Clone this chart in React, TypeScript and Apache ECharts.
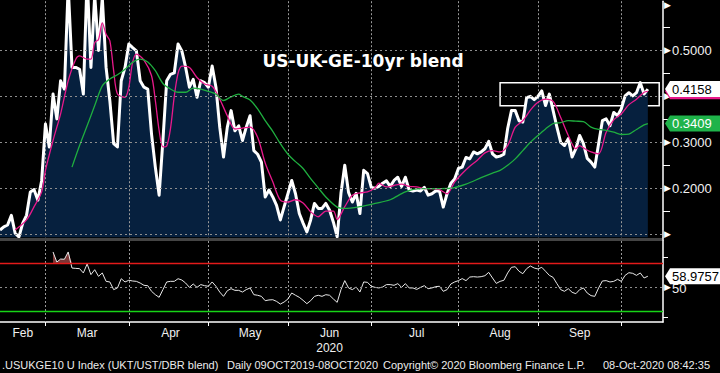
import React, { useEffect, useRef } from 'react';
import * as echarts from 'echarts';

// ---- axis / calendar ----
const START_DATE = '2020-02-13';
const CATEGORY_COUNT = 176;
const MARKET_HOLIDAYS = ['2020-04-10'];
const MONTH_NAMES = ['Jan', 'Feb', 'Mar', 'Apr', 'May', 'Jun', 'Jul', 'Aug', 'Sep', 'Oct', 'Nov', 'Dec'];
const YEAR_LABEL_MONTH = 'Jun';
const YEAR_LABEL = '2020';

// ---- main series: US-UK-GE 10yr blend (daily) ----
const blendValues = [
  0.109, 0.116, 0.120, 0.141, 0.102, 0.094, 0.124, 0.141, 0.192, 0.197,
  0.174, 0.217, 0.340, 0.290, 0.405, 0.351, 0.434, 0.416, 0.640, 0.463,
  0.463, 0.459, 0.405, 0.660, 0.463, 0.620, 0.500, 0.615, 0.463, 0.390,
  0.297, 0.290, 0.434, 0.463, 0.514, 0.506, 0.499, 0.434, 0.420, 0.416,
  0.318, 0.246, 0.185, 0.304, 0.434, 0.448, 0.451, 0.514, 0.499, 0.463,
  0.420, 0.437, 0.398, 0.434, 0.430, 0.420, 0.466, 0.420, 0.333, 0.268,
  0.333, 0.369, 0.325, 0.336, 0.304, 0.333, 0.358, 0.282, 0.274, 0.257,
  0.181, 0.196, 0.181, 0.163, 0.131, 0.160, 0.188, 0.217, 0.188, 0.145,
  0.124, 0.105, 0.131, 0.167, 0.156, 0.156, 0.167, 0.152, 0.126, 0.094,
  0.189, 0.250, 0.191, 0.170, 0.189, 0.145, 0.239, 0.232, 0.202, 0.200,
  0.204, 0.211, 0.216, 0.204, 0.217, 0.224, 0.204, 0.224, 0.196, 0.194,
  0.196, 0.194, 0.202, 0.185, 0.188, 0.194, 0.194, 0.159, 0.188, 0.211,
  0.220, 0.243, 0.246, 0.267, 0.264, 0.279, 0.275, 0.279, 0.286, 0.302,
  0.275, 0.268, 0.270, 0.274, 0.330, 0.369, 0.369, 0.347, 0.344, 0.397,
  0.400, 0.393, 0.400, 0.412, 0.380, 0.405, 0.369, 0.333, 0.300, 0.293,
  0.308, 0.268, 0.286, 0.315, 0.297, 0.265, 0.257, 0.246, 0.297, 0.347,
  0.351, 0.336, 0.365, 0.358, 0.373, 0.401, 0.408, 0.401, 0.408, 0.430,
  0.405, 0.4158,
];

// ---- short moving average (magenta), read at [dayIndex, value] ----
const fastAverage: [number, number][] = [
  [4, 0.109], [7, 0.131], [9, 0.160], [11, 0.192], [12, 0.239], [14, 0.304], [16, 0.362],
  [18, 0.434], [20, 0.481], [21, 0.488], [23, 0.481], [24, 0.481], [25, 0.517], [26, 0.524],
  [27, 0.560], [28, 0.535], [29, 0.521], [30, 0.456], [31, 0.405], [33, 0.398], [34, 0.420],
  [35, 0.474], [36, 0.492], [38, 0.479], [40, 0.445], [41, 0.391], [42, 0.326], [43, 0.290],
  [44, 0.292], [45, 0.330], [46, 0.400], [47, 0.450], [48, 0.466], [50, 0.463], [52, 0.441],
  [54, 0.427], [56, 0.422], [58, 0.394], [60, 0.358], [62, 0.329], [64, 0.331], [66, 0.333],
  [68, 0.311], [70, 0.255], [72, 0.214], [74, 0.174], [76, 0.170], [78, 0.175], [80, 0.168],
  [82, 0.149], [84, 0.138], [86, 0.150], [88, 0.150], [89, 0.132], [91, 0.160], [93, 0.185],
  [95, 0.190], [97, 0.192], [99, 0.201], [100, 0.211], [102, 0.203], [104, 0.206], [106, 0.209],
  [108, 0.204], [110, 0.203], [112, 0.199], [114, 0.199], [116, 0.197], [118, 0.188], [120, 0.214],
  [122, 0.232], [124, 0.248], [126, 0.261], [128, 0.277], [130, 0.282], [132, 0.279], [134, 0.293],
  [136, 0.333], [138, 0.347], [140, 0.370], [142, 0.387], [144, 0.394], [146, 0.389], [148, 0.354],
  [150, 0.315], [152, 0.286], [153, 0.293], [154, 0.288], [156, 0.279], [158, 0.275], [160, 0.322],
  [162, 0.349], [164, 0.362], [166, 0.382], [168, 0.394], [170, 0.409], [171, 0.411],
];

// ---- long moving average (green) ----
const slowAverage: [number, number][] = [
  [19, 0.246], [21, 0.293], [23, 0.336], [25, 0.380], [27, 0.423], [29, 0.438], [31, 0.447],
  [33, 0.459], [35, 0.474], [37, 0.481], [39, 0.475], [41, 0.456], [43, 0.428], [45, 0.416],
  [47, 0.409], [49, 0.409], [51, 0.418], [53, 0.416], [55, 0.411], [57, 0.405], [59, 0.391],
  [61, 0.399], [63, 0.405], [64, 0.400], [66, 0.392], [68, 0.373], [70, 0.347], [72, 0.324],
  [74, 0.297], [76, 0.274], [78, 0.258], [80, 0.243], [82, 0.221], [84, 0.201], [86, 0.181],
  [89, 0.159], [91, 0.156], [95, 0.160], [99, 0.167], [103, 0.175], [107, 0.192], [111, 0.199],
  [115, 0.199], [119, 0.200], [123, 0.209], [127, 0.223], [130, 0.233], [132, 0.239], [134, 0.250],
  [136, 0.264], [138, 0.282], [140, 0.300], [142, 0.315], [144, 0.329], [146, 0.341], [148, 0.343],
  [150, 0.347], [152, 0.346], [154, 0.345], [156, 0.333], [158, 0.328], [160, 0.326], [162, 0.322],
  [164, 0.317], [166, 0.318], [168, 0.328], [170, 0.338], [171, 0.3409],
];

// ---- RSI (lower panel) ----
const rsiValues: (number | null)[] = [
  null, null, null, null, null, null, null, null, null, null,
  null, null, null, null, 79.2, 70.8, 73.3, 73.1, 79.2, 65.8,
  65.5, 65.3, 61.7, 69.2, 60.3, 64.4, 58.9, 61.7, 54.7, 54.2,
  47.8, 49.2, 56.9, 54.2, 55.6, 55.0, 54.7, 53.3, 51.4, 51.1,
  46.4, 43.6, 41.4, 47.8, 54.2, 54.7, 54.7, 56.9, 55.8, 53.3,
  49.7, 52.5, 49.7, 52.0, 51.1, 50.6, 54.2, 50.6, 45.8, 42.2,
  46.9, 48.6, 47.2, 47.2, 45.8, 47.8, 49.2, 43.6, 43.1, 42.2,
  38.6, 39.2, 39.4, 38.0, 35.8, 37.5, 40.0, 45.0, 43.1, 41.4,
  38.9, 36.1, 38.6, 42.2, 43.1, 42.2, 43.6, 43.1, 40.0, 37.2,
  47.8, 55.3, 49.2, 47.8, 50.0, 45.8, 54.2, 53.9, 50.6, 49.7,
  49.2, 50.0, 52.0, 52.0, 51.4, 52.8, 49.7, 52.8, 49.2, 49.2,
  48.0, 49.7, 51.1, 48.6, 49.2, 50.3, 50.6, 46.4, 47.8, 52.5,
  54.2, 55.3, 57.0, 55.3, 58.3, 58.6, 58.3, 58.6, 59.4, 62.2,
  57.5, 53.0, 54.7, 55.6, 61.7, 66.4, 66.9, 63.1, 61.1, 65.3,
  67.5, 65.8, 65.0, 66.4, 63.1, 59.7, 58.0, 52.8, 47.8, 46.4,
  48.6, 45.6, 44.4, 47.8, 49.2, 45.0, 42.8, 42.2, 49.2, 55.0,
  55.3, 54.2, 54.7, 56.4, 54.7, 59.7, 61.9, 61.4, 59.7, 61.7,
  57.5, 58.98,
];
const overboughtStart = 14;
const overboughtValues = [79.2, 70.8, 73.3, 73.1, 79.2, 70];

// ---- axis settings ----
const priceAxisMin = 0.0928;
const priceAxisMax = 0.6072;
const priceLabelValues = [0.1, 0.2, 0.3, 0.4, 0.5, 0.6];
const priceShownLabels = [0.2, 0.3, 0.5];
const priceMinorTicks = [0.15, 0.25, 0.35, 0.45, 0.55];
const priceGridLines = [0.1, 0.2, 0.3, 0.4, 0.5];
const rsiAxisMin = 20.83;
const rsiAxisMax = 88.33;
const rsiTickValues = [25, 75];
const rsiLabelValues = [50];
const rsiUpper = 70;
const rsiMid = 50;
const rsiLower = 30;

// ---- last values / annotations ----
const lastBlend = 0.4158;
const lastFast = 0.411;
const lastSlow = 0.3409;
const lastRsi = 58.9757;
const boxFromIndex = 132;
const boxToIndex = 174;
const boxTop = 0.4296;
const boxBottom = 0.3798;

const TITLE = 'US-UK-GE-10yr blend';
const FOOTER_PARTS = [
  { text: '.USUKGE10 U Index (UKT/UST/DBR blend)', x: 2 },
  { text: 'Daily 09OCT2019-08OCT2020', x: 227 },
  { text: 'Copyright\u00A9 2020 Bloomberg Finance L.P.', x: 383 },
  { text: '08-Oct-2020 08:42:35', x: 603 },
];

const FONT = '"Liberation Sans", Arial, sans-serif';

function buildCategories(): string[] {
  const out: string[] = [];
  const [y, m, d] = START_DATE.split('-').map(Number);
  const dt = new Date(Date.UTC(y, m - 1, d));
  while (out.length < CATEGORY_COUNT) {
    const wd = dt.getUTCDay();
    const s = dt.toISOString().slice(0, 10);
    if (wd !== 0 && wd !== 6 && MARKET_HOLIDAYS.indexOf(s) < 0) out.push(s);
    dt.setUTCDate(dt.getUTCDate() + 1);
  }
  return out;
}

export default function App() {
  const ref = useRef<HTMLDivElement>(null);

  useEffect(() => {
    if (!ref.current) return;
    const chart = echarts.init(ref.current, null, { renderer: 'svg', width: 720, height: 373 });

    const cats = buildCategories();
    const lastIndex = cats.length - 1;
    const monthStarts: number[] = [];
    for (let i = 1; i < cats.length; i++) {
      if (cats[i].slice(5, 7) !== cats[i - 1].slice(5, 7)) monthStarts.push(i);
    }
    const bounds = [0, ...monthStarts];
    const labelAt: Record<number, string> = {};
    for (let k = 0; k < bounds.length - 1; k++) {
      const idx = Math.round((bounds[k] + bounds[k + 1]) / 2);
      labelAt[idx] = MONTH_NAMES[Number(cats[bounds[k]].slice(5, 7)) - 1];
    }

    const dotted = { color: '#8e8e8e', width: 1, type: [2, 3] };
    const isShown = (v: number) => priceShownLabels.some((s) => Math.abs(s - v) < 1e-9);

    const option: any = {
      animation: false,
      backgroundColor: '#000000',
      grid: [
        { left: 0, right: 57, top: 0, height: 237.5 },
        { left: 0, right: 57, top: 241, height: 81 },
      ],
      xAxis: [
        {
          gridIndex: 0, type: 'category', data: cats, boundaryGap: false,
          axisLine: { show: false, onZero: false }, axisTick: { show: false },
          axisLabel: { show: false }, splitLine: { show: false },
        },
        {
          gridIndex: 1, type: 'category', data: cats, boundaryGap: false,
          axisLine: { show: true, onZero: false, lineStyle: { color: '#ffffff', width: 1.5 } },
          axisTick: { show: false },
          axisLabel: {
            show: true, margin: 3, color: '#f0f0f0', fontSize: 12, fontFamily: FONT, lineHeight: 15,
            interval: (i: number) => labelAt[i] !== undefined,
            formatter: (_v: string, i: number) => {
              const m = labelAt[i] || '';
              return m === YEAR_LABEL_MONTH ? m + '\n' + YEAR_LABEL : m;
            },
          },
          splitLine: { show: false },
        },
      ],
      yAxis: [
        {
          gridIndex: 0, type: 'value', position: 'right', min: priceAxisMin, max: priceAxisMax,
          axisLine: { show: true, lineStyle: { color: '#ffffff', width: 1.5 } },
          axisTick: { show: true, length: 7, customValues: priceMinorTicks, lineStyle: { color: '#ffffff' } },
          axisLabel: {
            show: true, margin: 1, customValues: priceLabelValues,
            formatter: (v: number) => (isShown(v) ? '{a|\u25B6}{t|' + v.toFixed(4) + '}' : '{a|\u25B6}'),
            rich: {
              a: { color: '#ffffff', fontSize: 9, fontFamily: '"DejaVu Sans"', padding: [0, 1, 0, 0] },
              t: { color: '#f2f2f2', fontSize: 13, fontFamily: FONT },
            },
          },
          splitLine: { show: false },
        },
        {
          gridIndex: 1, type: 'value', position: 'right', min: rsiAxisMin, max: rsiAxisMax,
          axisLine: { show: true, lineStyle: { color: '#ffffff', width: 1.5 } },
          axisTick: { show: true, length: 5, customValues: rsiTickValues, lineStyle: { color: '#ffffff' } },
          axisLabel: {
            show: true, margin: 1, customValues: rsiLabelValues,
            formatter: (v: number) => '{a|\u25B6}{t|' + v + '}',
            rich: {
              a: { color: '#ffffff', fontSize: 9, fontFamily: '"DejaVu Sans"', padding: [0, 1, 0, 0] },
              t: { color: '#f2f2f2', fontSize: 13, fontFamily: FONT, padding: [4, 0, 0, 0] },
            },
          },
          splitLine: { show: false },
        },
      ],
      series: [
        {
          name: 'area', type: 'line', xAxisIndex: 0, yAxisIndex: 0, z: 1,
          data: blendValues, symbol: 'none', lineStyle: { width: 0 },
          areaStyle: { color: '#06203e', opacity: 1, origin: 'start' },
        },
        {
          name: 'grid', type: 'line', xAxisIndex: 0, yAxisIndex: 0, z: 2,
          data: [], symbol: 'none',
          markLine: {
            silent: true, symbol: ['none', 'none'], label: { show: false },
            data: priceGridLines.map((v) => ({ yAxis: v, lineStyle: dotted })),
          },
        },
        {
          name: 'blend', type: 'line', xAxisIndex: 0, yAxisIndex: 0, z: 3,
          data: blendValues, symbol: 'none',
          lineStyle: { color: '#ffffff', width: 3, join: 'round' },
        },
        {
          name: 'fast', type: 'line', xAxisIndex: 0, yAxisIndex: 0, z: 4,
          data: fastAverage, symbol: 'none', smooth: 0.3,
          lineStyle: { color: '#e8198b', width: 1.3 },
        },
        {
          name: 'slow', type: 'line', xAxisIndex: 0, yAxisIndex: 0, z: 4,
          data: slowAverage, symbol: 'none', smooth: 0.3,
          lineStyle: { color: '#1fae3f', width: 1.3 },
          markArea: {
            silent: true,
            itemStyle: { color: 'rgba(0,0,0,0)', borderColor: '#ffffff', borderWidth: 1.5 },
            data: [[
              { xAxis: boxFromIndex, yAxis: boxTop },
              { xAxis: boxToIndex, yAxis: boxBottom },
            ]],
          },
        },
        {
          name: 'overbought', type: 'line', xAxisIndex: 1, yAxisIndex: 1, z: 2,
          data: overboughtValues.map((v, i) => [overboughtStart + i, v]),
          symbol: 'none', lineStyle: { width: 0 },
          areaStyle: { color: '#7d3636', opacity: 1, origin: rsiUpper },
        },
        {
          name: 'rsi', type: 'line', xAxisIndex: 1, yAxisIndex: 1, z: 3,
          data: rsiValues, symbol: 'none',
          lineStyle: { color: '#e8e8e8', width: 1 },
          markLine: {
            silent: true, symbol: ['none', 'none'], label: { show: false },
            data: [
              { yAxis: rsiUpper, lineStyle: { color: '#e31a1a', width: 1.3, type: 'solid' } },
              { yAxis: rsiMid, lineStyle: dotted },
              { yAxis: rsiLower, lineStyle: { color: '#17d417', width: 1.3, type: 'solid' } },
            ],
          },
        },
      ],
    };

    chart.setOption(option);

    const px = (i: number) => chart.convertToPixel({ xAxisIndex: 0 }, cats[i]) as number;
    const axisX = px(lastIndex);
    const py = (axis: number, v: number) => chart.convertToPixel({ yAxisIndex: axis }, v) as number;
    const tag = (y: number, fill: string, text: string, color: string, z: number) => [
      {
        type: 'polygon', z,
        shape: { points: [[axisX + 2, y], [axisX + 7, y - 8], [720, y - 8], [720, y + 8], [axisX + 7, y + 8]] },
        style: { fill },
      },
      {
        type: 'text', z: z + 1, x: axisX + 9, y,
        style: { text, fill: color, font: '13px ' + FONT, verticalAlign: 'middle', align: 'left' },
      },
    ];

    const mainTop = py(0, priceAxisMax);
    const mainBottom = py(0, priceAxisMin);
    const rsiTop = py(1, rsiAxisMax);
    const rsiBottom = py(1, rsiAxisMin);

    // month boundary lines and ticks, positioned through the category axis scale
    const monthLines: any[] = [];
    const dotStyle = { stroke: '#9a9a9a', fill: null, lineWidth: 1, lineDash: [2, 2] };
    monthStarts.forEach((i) => {
      const x = Math.round(px(i)) + 0.5;
      monthLines.push(
        { type: 'polyline', z: 2, silent: true, shape: { points: [[x, mainTop], [x, mainBottom]] }, style: dotStyle },
        { type: 'polyline', z: 2, silent: true, shape: { points: [[x, rsiTop], [x, rsiBottom]] }, style: dotStyle },
        { type: 'polyline', z: 5, silent: true, shape: { points: [[x, rsiBottom], [x, rsiBottom + 4]] }, style: { stroke: '#ffffff', fill: null, lineWidth: 1 } },
      );
    });

    const graphic: any[] = [
      ...monthLines,
      { type: 'rect', z: 50, shape: { x: 0, y: mainBottom + 0.5, width: axisX, height: rsiTop - mainBottom - 0.5 }, style: { fill: '#444444' } },
      { type: 'polyline', z: 51, shape: { points: [[axisX, mainBottom], [axisX, rsiTop]] }, style: { stroke: '#ffffff', fill: null, lineWidth: 1.5 } },
      {
        type: 'text', z: 60, x: 363, y: 60.5,
        style: { text: TITLE, fill: '#ffffff', font: 'bold 17px "DejaVu Sans"', align: 'center', verticalAlign: 'middle' },
      },
      ...FOOTER_PARTS.map((p) => ({
        type: 'text', z: 60, x: p.x, y: 365,
        style: { text: p.text, fill: '#ececec', font: '11px ' + FONT, align: 'left', verticalAlign: 'middle' },
      })),
      ...tag(py(0, lastFast), '#e8198b', '', '#000', 100),
      ...tag(py(0, lastBlend), '#ffffff', lastBlend.toFixed(4), '#000000', 102),
      ...tag(py(0, lastSlow), '#1fb34a', lastSlow.toFixed(4), '#ffffff', 104),
      ...tag(py(1, lastRsi), '#ffffff', lastRsi.toFixed(4), '#000000', 106),
    ];
    chart.setOption({ graphic });

    return () => chart.dispose();
  }, []);

  return (
    <div
      ref={ref}
      style={{ position: 'absolute', left: 0, top: 0, width: 720, height: 373, background: '#000' }}
    />
  );
}
